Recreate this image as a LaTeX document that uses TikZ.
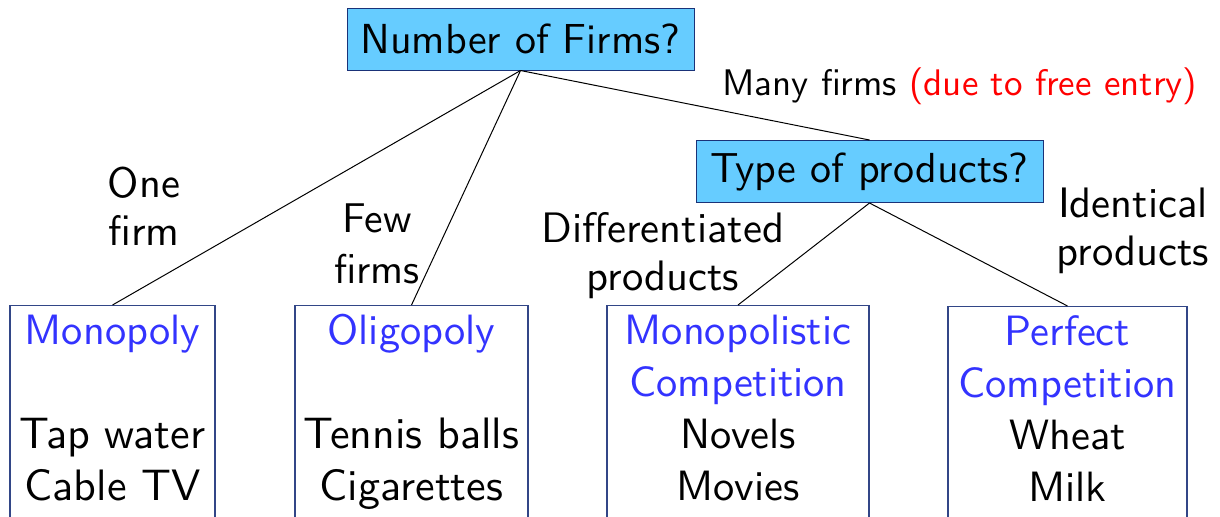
\documentclass[tikz,border=0pt]{standalone}
\usepackage{fontspec}
\setsansfont{lmsans10-regular.otf}
\definecolor{qfill}{RGB}{102,204,255}
\definecolor{qedge}{RGB}{26,50,120}
\definecolor{bedge}{RGB}{50,70,135}
\definecolor{mktblue}{RGB}{51,51,255}
\newcommand{\bigitem}{\fontsize{22}{26}\selectfont}
\begin{document}
\begin{tikzpicture}[x=0.5pt,y=-0.5pt,
  boxtxt/.style={font=\sffamily\fontsize{21.2}{26}\selectfont, inner sep=0pt, align=center, anchor=base},
  lbltxt/.style={font=\sffamily\fontsize{21.3}{24}\selectfont, inner sep=0pt, align=center, anchor=base},
  question/.style={draw=qedge, line width=0.5pt, fill=qfill, inner sep=0pt, minimum height=31pt, minimum width=173.5pt, font=\sffamily\fontsize{21}{26}\selectfont},
  market/.style={draw=bedge, line width=0.6pt, inner sep=0pt, minimum height=150pt, anchor=north},
  link/.style={draw=black, line width=0.5pt}]
\useasboundingbox (0,0) rectangle (1220,516);
\clip (0,0) rectangle (1220,516);

% question boxes
\node[question] (nf) at (520.5,39) {Number of Firms?};
\node[question] (tp) at (869.5,171.5) {Type of products?};

% market boxes
\node[market, minimum width=102.5pt] (mono) at (112.5,305) {};
\node[market, minimum width=116.5pt] (olig) at (411.5,305) {};
\node[market, minimum width=131pt] (mpc) at (738,305) {};
\node[market, minimum width=119.5pt] (pc) at (1067.5,306) {};

% texts in market boxes (anchor base = last line)
\node[boxtxt] (monot) at (112.5,500) {\textcolor{mktblue}{Monopoly}\\[26pt]{\bigitem Tap water}\\{\bigitem Cable TV}};
\node[boxtxt] (oligt) at (411.5,500) {\textcolor{mktblue}{Oligopoly}\\[26pt]{\bigitem Tennis balls}\\{\bigitem Cigarettes}};
\node[boxtxt] (mpct) at (738,500) {\textcolor{mktblue}{Monopolistic}\hspace{6.5pt}\\\textcolor{mktblue}{Competition}\\Novels\\Movies};
\node[boxtxt] (pct) at (1067.5,501) {\textcolor{mktblue}{Perfect}\\\textcolor{mktblue}{Competition}\\Wheat\\Milk};

% connectors
\draw[link] (nf.south) -- (mono.north);
\draw[link] (nf.south) -- (olig.north);
\draw[link] (nf.south) -- (tp.north);
\draw[link] (tp.south) -- (mpc.north);
\draw[link] (tp.south) -- (pc.north);

% branch labels
\node[lbltxt] (l1) at (144,245) {One\\firm};
\node[lbltxt, font=\sffamily\fontsize{20.8}{25.5}\selectfont] (l2) at (377,283) {Few\\firms};
\node[lbltxt] (l3) at (663,290) {Differentiated\\products};
\node[lbltxt] (l4) at (1133,265) {Identical\\products};
\node[lbltxt, anchor=base west, font=\sffamily\fontsize{18.5}{22}\selectfont] (l5) at (722,95) {Many firms \textcolor{red}{(due to free entry)}};
\end{tikzpicture}
\end{document}
